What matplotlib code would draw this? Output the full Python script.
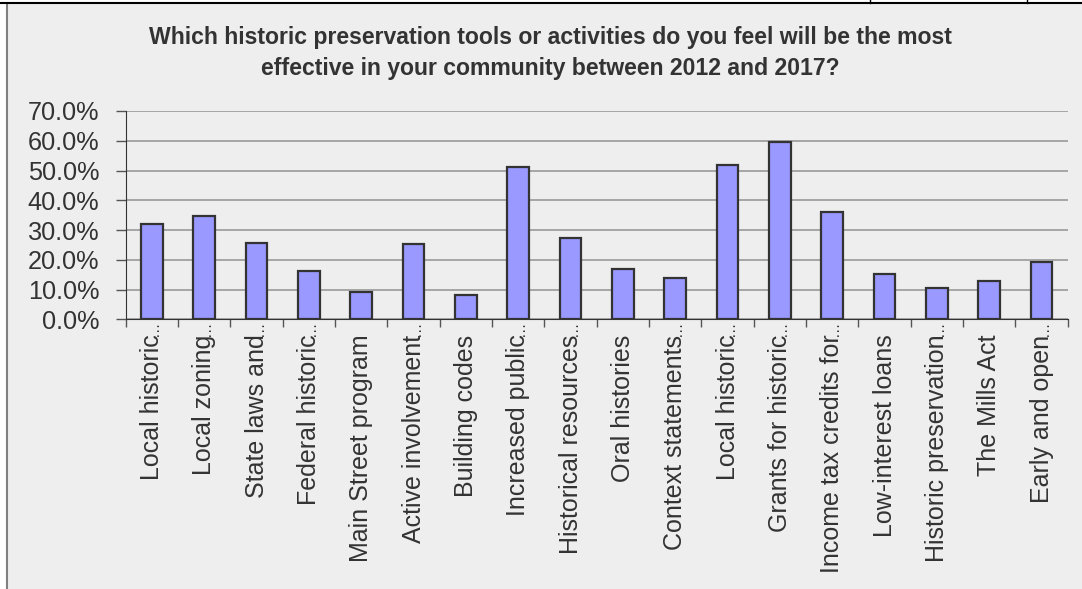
import numpy as np
import matplotlib
matplotlib.use("Agg")
import matplotlib.pyplot as plt
import matplotlib.transforms as mtransforms
from matplotlib.patches import Rectangle
from matplotlib.lines import Line2D
from matplotlib.ticker import PercentFormatter, FixedLocator

plt.rcParams['font.family'] = ['Liberation Sans', 'DejaVu Sans']

# survey answers (share of respondents); labels are cut short in the chart
labels = ["Local historic", "Local zoning", "State laws and", "Federal historic",
          "Main Street program", "Active involvement", "Building codes", "Increased public",
          "Historical resources", "Oral histories", "Context statements", "Local historic",
          "Grants for historic", "Income tax credits for", "Low-interest loans",
          "Historic preservation", "The Mills Act", "Early and open"]
truncated = [True, True, True, True, False, True, False, True, True,
             False, True, True, True, True, False, True, False, True]
values = [32.0, 34.7, 25.8, 16.1, 9.1, 25.3, 8.2, 51.1, 27.2,
          16.9, 13.9, 52.0, 59.7, 36.1, 15.1, 10.4, 13.0, 19.3]
title = ("Which historic preservation tools or activities do you feel will be the most\n"
         "effective in your community between 2012 and 2017?")

W, H = 1082, 589
fig = plt.figure(figsize=(W / 100, H / 100), dpi=100, facecolor='white')

# chart area background + border bits
fig.patches.append(Rectangle((6.5 / W, 0), 1 - 6.5 / W, (H - 3) / H, transform=fig.transFigure,
                             facecolor='#eeeeee', edgecolor='none', zorder=-10))
fig.lines.append(Line2D([6.5 / W, 6.5 / W], [0, (H - 3) / H], transform=fig.transFigure,
                        color='#808080', lw=1.5, zorder=-5))
fig.lines.append(Line2D([0, 1], [(H - 2.5) / H, (H - 2.5) / H], transform=fig.transFigure,
                        color='black', lw=1.5, zorder=-5))
for xp in (870, 1027):
    fig.lines.append(Line2D([xp / W, xp / W], [(H - 2.5) / H, 1], transform=fig.transFigure,
                            color='black', lw=1, zorder=-5))

ax = fig.add_axes([125.7 / W, (H - 319.3) / H, (1067.7 - 125.7) / W, (319.3 - 111) / H])
ax.set_facecolor('none')

x = np.arange(len(values))
ax.bar(x, values, width=0.41, color='#9999ff', edgecolor='#333333', linewidth=1.6, zorder=3)

ax.set_xlim(-0.5, len(values) - 0.5)
ax.set_ylim(0, 70)
ax.set_yticks(np.arange(0, 71, 10))
ax.yaxis.set_major_formatter(PercentFormatter(decimals=1))
ax.grid(axis='y', color='#999999', lw=1.2, zorder=0)

ax.set_xticks(x)
ax.set_xticklabels(labels, rotation=90, fontsize=18, color='#333333')
ax.xaxis.set_minor_locator(FixedLocator(np.arange(-0.5, len(values), 1)))
ax.tick_params(axis='x', which='major', length=0, pad=11)
ax.tick_params(axis='x', which='minor', length=6, color='#555555', width=1)
ax.tick_params(axis='y', length=7, color='#555555', width=1, labelsize=18.2,
               labelcolor='#333333', pad=12)

# overflow dots of the cut labels, squeezed between axis and label
trans = mtransforms.blended_transform_factory(ax.transData, ax.transAxes)
trans = trans + mtransforms.ScaledTranslation(1.5 / 72, -1 / 72, fig.dpi_scale_trans)
for xi, cut in zip(x, truncated):
    if cut:
        ax.text(xi, 0, "…", transform=trans, rotation=90, ha='center', va='top',
                fontsize=11, color='#333333', clip_on=False)

for s in ('top', 'right'):
    ax.spines[s].set_visible(False)
ax.spines['left'].set_color('#333333')
ax.spines['bottom'].set_color('#333333')

fig.text(550 / W, (H - 53) / H, title, ha='center', va='center', fontsize=16.6,
         fontweight='bold', color='#333333', linespacing=1.4)

fig.savefig('out.png', dpi=100, facecolor=fig.get_facecolor())
